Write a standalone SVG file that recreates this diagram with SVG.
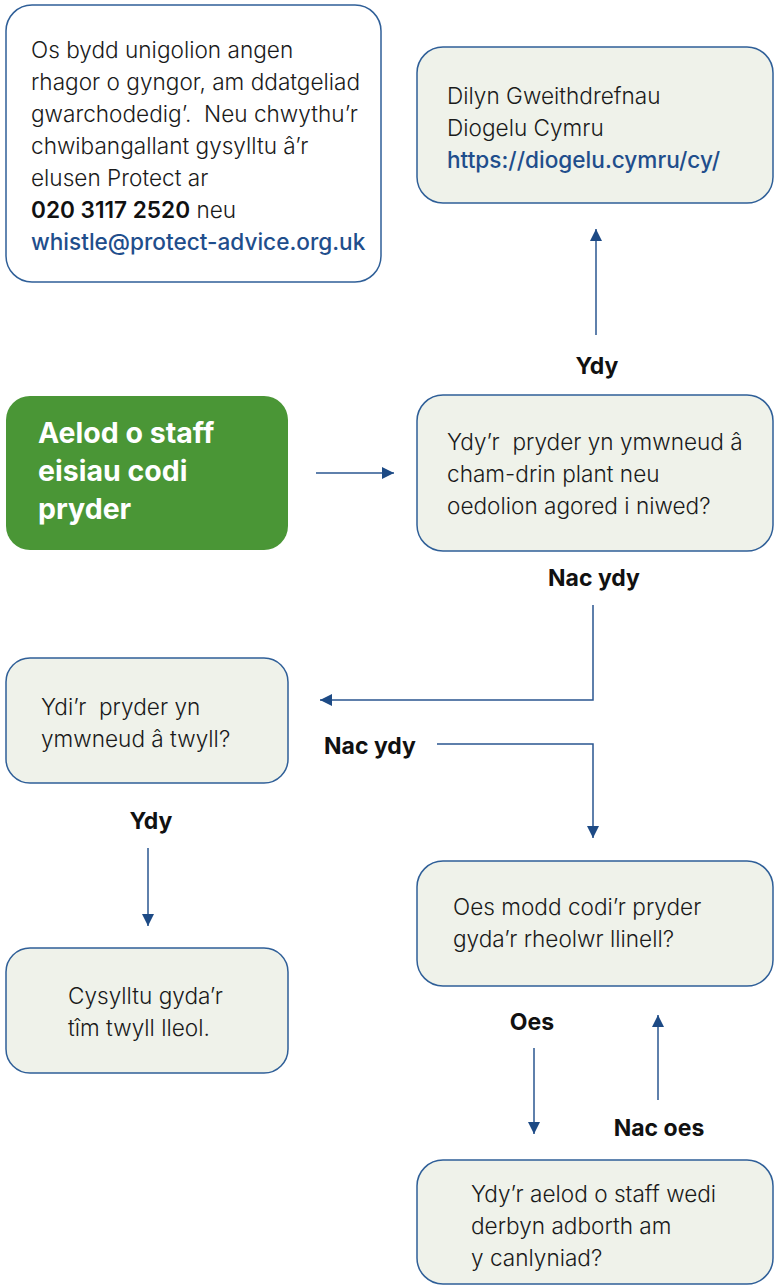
<svg xmlns="http://www.w3.org/2000/svg" width="776" height="1288" viewBox="0 0 776 1288">
  <style>
    .box { fill: #eff2ea; stroke: #2f5f98; stroke-width: 1.5; }
    .info { fill: #ffffff; stroke: #2f5f98; stroke-width: 1.5; }
    .start { fill: #4a9636; }
    .t { font-family: Inter, "Liberation Sans", sans-serif; font-size: 22.6px; font-weight: 300; fill: #1a1a1a; white-space: pre; }
    .st { font-family: Inter, "Liberation Sans", sans-serif; font-size: 28.5px; font-weight: 700; fill: #ffffff; }
    .lbl { font-family: Inter, "Liberation Sans", sans-serif; font-size: 23px; font-weight: 700; fill: #111111; text-anchor: middle; }
    .link { fill: #1f4e8c; font-weight: 500; }
    .num { font-weight: 600; fill: #111111; }
    .con { fill: none; stroke: #2a5690; stroke-width: 1.5; }
  </style>
  <defs>
    <marker id="arrow" viewBox="0 0 12 12" refX="12" refY="6" markerWidth="12" markerHeight="12" markerUnits="userSpaceOnUse" orient="auto">
      <path d="M0,0 L12,6 L0,12 Z" fill="#1d4a85"/>
    </marker>
  </defs>

  <!-- connectors -->
  <g id="connectors">
    <line class="con" x1="316" y1="473" x2="394" y2="473" marker-end="url(#arrow)"/>
    <line class="con" x1="596" y1="335" x2="596" y2="229" marker-end="url(#arrow)"/>
    <polyline class="con" points="593,605 593,700 320,700" marker-end="url(#arrow)"/>
    <polyline class="con" points="437,744 593,744 593,838" marker-end="url(#arrow)"/>
    <line class="con" x1="148" y1="848" x2="148" y2="926" marker-end="url(#arrow)"/>
    <line class="con" x1="534" y1="1048" x2="534" y2="1134" marker-end="url(#arrow)"/>
    <line class="con" x1="658" y1="1100" x2="658" y2="1015" marker-end="url(#arrow)"/>
    <text class="lbl" x="597" y="374">Ydy</text>
    <text class="lbl" x="594" y="586">Nac ydy</text>
    <text class="lbl" x="370" y="754">Nac ydy</text>
    <text class="lbl" x="151" y="829">Ydy</text>
    <text class="lbl" x="532" y="1030">Oes</text>
    <text class="lbl" x="659" y="1136">Nac oes</text>
  </g>

  <g id="advice">
    <rect class="info" x="6" y="5" width="375" height="277" rx="26"/>
    <text class="t" x="31" y="58">Os bydd unigolion angen</text>
    <text class="t" x="31" y="90">rhagor o gyngor, am ddatgeliad</text>
    <text class="t" x="31" y="122">gwarchodedig’.  Neu chwythu’r</text>
    <text class="t" x="31" y="154">chwibangallant gysylltu â’r</text>
    <text class="t" x="31" y="186">elusen Protect ar</text>
    <text class="t" x="31" y="218"><tspan class="num">020 3117 2520</tspan> neu</text>
    <text class="t link" x="31" y="250">whistle@protect-advice.org.uk</text>
  </g>

  <g id="safeguarding">
    <rect class="box" x="417" y="47" width="356" height="156" rx="26"/>
    <text class="t" x="447" y="104">Dilyn Gweithdrefnau</text>
    <text class="t" x="447" y="136">Diogelu Cymru</text>
    <text class="t link" x="447" y="168">https://diogelu.cymru/cy/</text>
  </g>

  <g id="start">
    <rect class="start" x="6" y="396" width="282" height="154" rx="24"/>
    <text class="st" x="38" y="443">Aelod o staff</text>
    <text class="st" x="38" y="481">eisiau codi</text>
    <text class="st" x="38" y="519">pryder</text>
  </g>

  <g id="q-abuse">
    <rect class="box" x="417" y="395" width="356" height="156" rx="26"/>
    <text class="t" x="447" y="450">Ydy’r  pryder yn ymwneud â</text>
    <text class="t" x="447" y="482">cham-drin plant neu</text>
    <text class="t" x="447" y="514">oedolion agored i niwed?</text>
  </g>

  <g id="q-fraud">
    <rect class="box" x="6" y="658" width="282" height="125" rx="24"/>
    <text class="t" x="41" y="715">Ydi’r  pryder yn</text>
    <text class="t" x="41" y="747">ymwneud â twyll?</text>
  </g>

  <g id="fraud-team">
    <rect class="box" x="6" y="948" width="282" height="125" rx="24"/>
    <text class="t" x="68" y="1004">Cysylltu gyda’r</text>
    <text class="t" x="68" y="1036">tîm twyll lleol.</text>
  </g>

  <g id="q-manager">
    <rect class="box" x="417" y="861" width="356" height="125" rx="26"/>
    <text class="t" x="453" y="915">Oes modd codi’r pryder</text>
    <text class="t" x="453" y="947">gyda’r rheolwr llinell?</text>
  </g>

  <g id="q-feedback">
    <rect class="box" x="417" y="1160" width="356" height="124" rx="26"/>
    <text class="t" x="471" y="1202">Ydy’r aelod o staff wedi</text>
    <text class="t" x="471" y="1234">derbyn adborth am</text>
    <text class="t" x="471" y="1266">y canlyniad?</text>
  </g>
</svg>
